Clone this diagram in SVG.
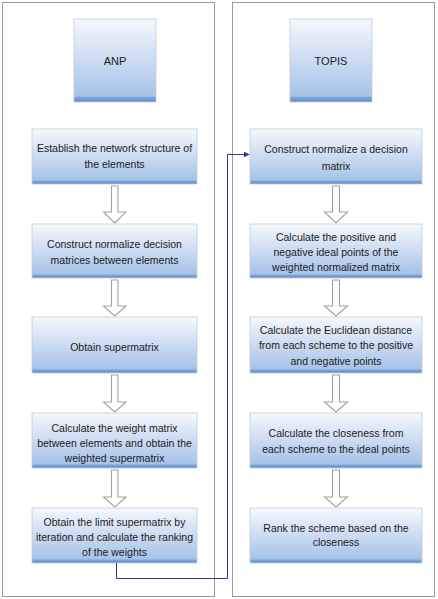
<svg xmlns="http://www.w3.org/2000/svg" width="438" height="599" viewBox="0 0 438 599">
  <defs>
    <linearGradient id="boxGrad" x1="0" y1="0" x2="0" y2="1">
      <stop offset="0" stop-color="#f6f8fd"/>
      <stop offset="0.93" stop-color="#a6c2e8"/>
      <stop offset="0.945" stop-color="#7ca4da"/>
      <stop offset="1" stop-color="#5f8dd0"/>
    </linearGradient>
    <marker id="navyArrow" viewBox="0 0 10 10" refX="9" refY="5" markerWidth="6" markerHeight="6" markerUnits="userSpaceOnUse" orient="auto">
      <path d="M0,0 L10,5 L0,10 Z" fill="#333399"/>
    </marker>
    <style>
      .panel { fill: #ffffff; stroke: #9a9a9a; stroke-width: 1; }
      .box { fill: url(#boxGrad); stroke: #c3cbd6; stroke-width: 0.8; }
      .shadow { fill: #d9dde3; }
      .label { font-family: "Liberation Sans", Arial, sans-serif; font-size: 10.5px; fill: #1c1c1c; text-anchor: middle; }
      .head { font-family: "Liberation Sans", Arial, sans-serif; font-size: 11px; fill: #1c1c1c; text-anchor: middle; }
      .blockArrow { fill: #ffffff; stroke: #a3a3a3; stroke-width: 1.1; }
      .link { fill: none; stroke: #333399; stroke-width: 1; }
    </style>
  </defs>

  <g id="panel-anp"><rect class="panel" x="2.5" y="2.5" width="212" height="594"/></g>
  <g id="panel-topis"><rect class="panel" x="232.5" y="2.5" width="202" height="594"/></g>

  <g id="anp">
    <rect class="box" x="74" y="19" width="82" height="83"/>
    <text class="head" x="115" y="64.5">ANP</text>
  </g>
  <g id="topis">
    <rect class="box" x="290" y="19" width="82" height="83"/>
    <text class="head" x="331" y="64.5">TOPIS</text>
  </g>

  <g id="anp1">
    <rect class="box" x="32" y="129" width="165" height="55"/>
    <text class="label" x="114.5" y="152">Establish the network structure of</text>
    <text class="label" x="114.5" y="168">the elements</text>
  </g>
  <g id="anp2">
    <rect class="box" x="32" y="224" width="165" height="54"/>
    <text class="label" x="114.5" y="247.5">Construct normalize decision</text>
    <text class="label" x="114.5" y="263.5">matrices between elements</text>
  </g>
  <g id="anp3">
    <rect class="box" x="32" y="317" width="165" height="56"/>
    <text class="label" x="114.5" y="350.5">Obtain supermatrix</text>
  </g>
  <g id="anp4">
    <rect class="box" x="32" y="413" width="165" height="55"/>
    <text class="label" x="114.5" y="431.5">Calculate the weight matrix</text>
    <text class="label" x="114.5" y="446.5">between elements and obtain the</text>
    <text class="label" x="114.5" y="461.5">weighted supermatrix</text>
  </g>
  <g id="anp5">
    <rect class="box" x="32" y="508" width="165" height="55"/>
    <text class="label" x="114.5" y="525.5">Obtain the limit supermatrix by</text>
    <text class="label" x="114.5" y="540.5">iteration and calculate the ranking</text>
    <text class="label" x="114.5" y="555.5">of the weights</text>
  </g>

  <g id="topis1">
    <rect class="box" x="250" y="129" width="172" height="55"/>
    <text class="label" x="336" y="152.5">Construct normalize a decision</text>
    <text class="label" x="336" y="169.5">matrix</text>
  </g>
  <g id="topis2">
    <rect class="box" x="250" y="224" width="172" height="54"/>
    <text class="label" x="336" y="240.5">Calculate the positive and</text>
    <text class="label" x="336" y="255.5">negative ideal points of the</text>
    <text class="label" x="336" y="270.5">weighted normalized matrix</text>
  </g>
  <g id="topis3">
    <rect class="box" x="250" y="317" width="172" height="56"/>
    <text class="label" x="336" y="333.5">Calculate the Euclidean distance</text>
    <text class="label" x="336" y="349">from each scheme to the positive</text>
    <text class="label" x="336" y="365">and negative points</text>
  </g>
  <g id="topis4">
    <rect class="box" x="250" y="413" width="172" height="55"/>
    <text class="label" x="336" y="436.5">Calculate the closeness from</text>
    <text class="label" x="336" y="453">each scheme to the ideal points</text>
  </g>
  <g id="topis5">
    <rect class="box" x="250" y="508" width="172" height="55"/>
    <text class="label" x="336" y="531.5">Rank the scheme based on the</text>
    <text class="label" x="336" y="546">closeness</text>
  </g>

  <g id="connectors">
    <path class="blockArrow" d="M111.5,186 H118 V212 H126 L114.75,223 L103.5,212 H111.5 Z"/>
    <path class="blockArrow" d="M111.5,280 H118 V306 H126 L114.75,316 L103.5,306 H111.5 Z"/>
    <path class="blockArrow" d="M111.5,375 H118 V402 H126 L114.75,412 L103.5,402 H111.5 Z"/>
    <path class="blockArrow" d="M111.5,470 H118 V497 H126 L114.75,507 L103.5,497 H111.5 Z"/>
    <path class="blockArrow" d="M332.5,186 H339.5 V212 H347.5 L336,223 L324.5,212 H332.5 Z"/>
    <path class="blockArrow" d="M332.5,280 H339.5 V306 H347.5 L336,316 L324.5,306 H332.5 Z"/>
    <path class="blockArrow" d="M332.5,375 H339.5 V402 H347.5 L336,412 L324.5,402 H332.5 Z"/>
    <path class="blockArrow" d="M332.5,470 H339.5 V497 H347.5 L336,507 L324.5,497 H332.5 Z"/>
    <path class="link" d="M116.5,563 V578.5 H227.5 V154.5 H249" marker-end="url(#navyArrow)"/>
  </g>
</svg>
